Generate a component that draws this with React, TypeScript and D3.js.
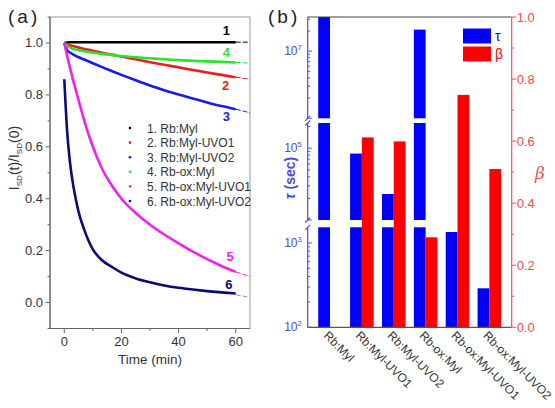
import React from "react";
import * as d3 from "d3";

// ---------- Panel (a) data ----------
const times = [0, 1, 2, 3, 4, 5, 7, 10, 13, 17, 20, 25, 30, 35, 40, 45, 50, 55, 60];
const fitTimes = [60, 62.5, 65];

const seriesNames = [
  "1. Rb:Myl",
  "2. Rb:Myl-UVO1",
  "3. Rb:Myl-UVO2",
  "4. Rb-ox:Myl",
  "5. Rb-ox:Myl-UVO1",
  "6. Rb-ox:Myl-UVO2",
];
const seriesColors = ["#000000", "#f01c1c", "#1a1ae6", "#2fe02f", "#f020f0", "#0a0a78"];
const fitColors = ["#000000", "#f01c1c", "#1a1ae6", "#2fe02f", "#f020f0", "#8a8ad8"];

const s1 = [1.0, 1.002, 1.003, 1.003, 1.003, 1.003, 1.003, 1.003, 1.003, 1.003, 1.003, 1.003, 1.003, 1.003, 1.003, 1.003, 1.003, 1.003, 1.003];
const s2 = [1.0, 0.995, 0.991, 0.988, 0.985, 0.982, 0.977, 0.97, 0.963, 0.954, 0.948, 0.937, 0.926, 0.916, 0.906, 0.896, 0.886, 0.877, 0.868];
const s3 = [1.0, 0.972, 0.963, 0.956, 0.95, 0.945, 0.936, 0.922, 0.908, 0.89, 0.877, 0.856, 0.836, 0.818, 0.801, 0.786, 0.771, 0.757, 0.745];
const s4 = [1.0, 0.988, 0.982, 0.978, 0.975, 0.972, 0.968, 0.963, 0.958, 0.953, 0.95, 0.945, 0.941, 0.937, 0.934, 0.931, 0.929, 0.927, 0.925];
const s5 = [1.0, 0.95, 0.905, 0.86, 0.82, 0.78, 0.7, 0.6, 0.52, 0.445, 0.4, 0.345, 0.3, 0.262, 0.228, 0.196, 0.167, 0.141, 0.118];
const s6 = [0.86, 0.66, 0.54, 0.46, 0.4, 0.35, 0.28, 0.205, 0.165, 0.135, 0.115, 0.093, 0.078, 0.066, 0.057, 0.05, 0.044, 0.039, 0.035];
const seriesValues = [s1, s2, s3, s4, s5, s6];

const f1 = [1.003, 1.003, 1.003];
const f2 = [0.868, 0.864, 0.86];
const f3 = [0.745, 0.738, 0.731];
const f4 = [0.925, 0.924, 0.922];
const f5 = [0.118, 0.109, 0.1];
const f6 = [0.03, 0.025, 0.02];
const fitValues = [f1, f2, f3, f4, f5, f6];

const curveLabels = ["1", "2", "3", "4", "5", "6"];
const curveLabelAt = [
  [56.7, 1.051],
  [56.5, 0.839],
  [56.7, 0.719],
  [56.7, 0.966],
  [58, 0.179],
  [57.6, 0.071],
];

const aYTicks = [0.0, 0.2, 0.4, 0.6, 0.8, 1.0];
const aXTicks = [0, 20, 40, 60];

// ---------- Panel (b) data ----------
const categories = ["Rb:Myl", "Rb:Myl-UVO1", "Rb:Myl-UVO2", "Rb-ox:Myl", "Rb-ox:Myl-UVO1", "Rb-ox:Myl-UVO2"];
const tauValues = [5e7, 8.4e4, 2.3e4, 2.1e7, 1350, 290];
const betaValues = [null, 0.612, 0.599, 0.29, 0.749, 0.51];
const betaTicks = [0, 0.2, 0.4, 0.6, 0.8, 1.0];
const tauLabelExps = [2, 3, 5, 7];

export default function App() {
  // Panel (a) scales
  const xA = d3.scaleLinear().domain([-5, 65]).range([50, 250]);
  const yA = d3.scaleLinear().domain([-0.1, 1.1]).range([328.5, 17]);
  const line = d3
    .line<[number, number]>()
    .x((d) => xA(d[0]))
    .y((d) => yA(d[1]))
    .curve(d3.curveMonotoneX);

  // Panel (b) scales
  const bL = 307.7, bR = 511.7, bT = 17, bB = 327.3;
  const xB = d3.scaleLinear().domain([0.3, 6.7]).range([bL, bR]);
  const yBeta = d3.scaleLinear().domain([0, 1]).range([bB, bT]);
  const segments = [
    d3.scaleLog().domain([1e2, Math.pow(10, 3.186)]).range([bB, 227.3]),
    d3.scaleLog().domain([1e4, Math.pow(10, 5.35)]).range([220, 123]),
    d3.scaleLog().domain([1e6, Math.pow(10, 7.51)]).range([118.3, bT]),
  ];
  const blue = "#0000ff";
  const red = "#ff0000";
  const axBlue = "#4a4ae6";
  const axRed = "#f05050";
  const barW = 11.8;

  const font = "'Liberation Sans', Arial, Helvetica, sans-serif";

  // minor ticks for log segments
  const logMinor: { seg: number; v: number; major: boolean }[] = [];
  segments.forEach((s, i) => {
    const [lo, hi] = s.domain();
    for (let e = Math.floor(Math.log10(lo)); e <= Math.ceil(Math.log10(hi)); e++) {
      for (let m = 1; m <= 9; m++) {
        const v = m * Math.pow(10, e);
        if (v >= lo * 0.999 && v <= hi) logMinor.push({ seg: i, v, major: m === 1 });
      }
    }
  });

  const findSeg = (e: number) => segments.find((s) => {
    const [lo, hi] = s.domain();
    const v = Math.pow(10, e);
    return v >= lo * 0.999 && v <= hi;
  })!;

  const breakYs = [118.3, 123, 220, 227.3];

  return (
    <svg
      width={555}
      height={408}
      style={{ position: "absolute", left: 0, top: 0, background: "#fff" }}
      fontFamily={font}
    >
      <rect x={0} y={0} width={555} height={408} fill="#fff" />
      {/* ================= Panel (a) ================= */}
      <text x={8} y={23} fontSize={19} fill="#222" letterSpacing={3}>(a)</text>

      {/* frame */}
      <rect x={50} y={17} width={200} height={311.5} fill="none" stroke="#9a9a9a" strokeWidth={1} />
      <line x1={50} y1={17} x2={50} y2={328.5} stroke="#666" strokeWidth={1.2} />
      <line x1={50} y1={328.5} x2={250} y2={328.5} stroke="#666" strokeWidth={1.2} />

      {/* y ticks */}
      {d3.range(-0.1, 1.1001, 0.1).map((v, i) => (
        <line key={"aym" + i} x1={50} x2={Math.abs(Math.round(v * 10) % 2) === 0 ? 45.5 : 47.5} y1={yA(v)} y2={yA(v)} stroke="#666" strokeWidth={1} />
      ))}
      {aYTicks.map((v) => (
        <text key={"ayl" + v} x={43} y={yA(v) + 4.5} fontSize={13} fill="#333" textAnchor="end">
          {v.toFixed(1)}
        </text>
      ))}
      {/* x ticks */}
      {d3.range(0, 61, 10).map((v) => (
        <line key={"axm" + v} x1={xA(v)} x2={xA(v)} y1={328.5} y2={v % 20 === 0 ? 333 : 331} stroke="#666" strokeWidth={1} />
      ))}
      {aXTicks.map((v) => (
        <text key={"axl" + v} x={xA(v)} y={346} fontSize={13} fill="#333" textAnchor="middle">
          {v}
        </text>
      ))}
      <text x={150} y={364} fontSize={13.5} fill="#333" textAnchor="middle">Time (min)</text>
      <text transform="translate(19,158) rotate(-90)" fontSize={14} fill="#333" textAnchor="middle">
        I<tspan fontSize={8} dy={3}>SD</tspan>
        <tspan dy={-3}>(t)/I</tspan>
        <tspan fontSize={8} dy={3}>SD</tspan>
        <tspan dy={-3}>(0)</tspan>
      </text>

      {/* curves */}
      <g>
        {seriesValues.map((vals, i) => (
          <path
            key={"fit" + i}
            d={line(fitTimes.map((t, j) => [t, fitValues[i][j]]) as [number, number][]) || ""}
            fill="none"
            stroke={fitColors[i]}
            strokeWidth={1}
            strokeDasharray="5 2"
          />
        ))}
        {seriesValues.map((vals, i) => (
          <path
            key={"s" + i}
            d={line(times.map((t, j) => [t, vals[j]]) as [number, number][]) || ""}
            fill="none"
            stroke={seriesColors[i]}
            strokeWidth={2.6}
          />
        ))}
      </g>
      {curveLabels.map((l, i) => (
        <text
          key={"cl" + i}
          x={xA(curveLabelAt[i][0])}
          y={yA(curveLabelAt[i][1]) + 5}
          fontSize={13}
          fontWeight="bold"
          fill={seriesColors[i]}
          textAnchor="middle"
        >
          {l}
        </text>
      ))}
      {/* legend */}
      {seriesNames.map((n, i) => (
        <g key={"lg" + i}>
          <circle cx={130} cy={128 + i * 14.6} r={1.3} fill={seriesColors[i]} />
          <text x={147} y={128 + i * 14.6 + 4.5} fontSize={12} fill="#333">{n}</text>
        </g>
      ))}

      {/* ================= Panel (b) ================= */}
      <text x={268} y={23} fontSize={19} fill="#222" letterSpacing={3}>(b)</text>

      {/* bars */}
      {categories.map((c, i) => {
        const cx = xB(i + 1);
        const v = tauValues[i];
        return (
          <g key={"bar" + i}>
            {segments.map((s, k) => {
              const [lo, hi] = s.domain();
              if (v <= lo) return null;
              const top = s(Math.min(v, hi));
              const bottom = s(lo);
              return <rect key={k} x={cx - barW} y={top} width={barW} height={bottom - top} fill={blue} />;
            })}
            {betaValues[i] != null && (
              <rect x={cx} y={yBeta(betaValues[i] as number)} width={barW} height={bB - yBeta(betaValues[i] as number)} fill={red} />
            )}
          </g>
        );
      })}

      {/* frame top/bottom */}
      <line x1={bL} x2={bR} y1={bT} y2={bT} stroke="#444" strokeWidth={1.2} />
      <line x1={bL} x2={bR} y1={bB} y2={bB} stroke="#555" strokeWidth={1.2} />

      {/* left broken axis */}
      {segments.map((s, k) => (
        <line key={"seg" + k} x1={bL} x2={bL} y1={s.range()[0]} y2={s.range()[1]} stroke={axBlue} strokeWidth={1.2} />
      ))}
      {logMinor.map((t, i) => (
        <line
          key={"lt" + i}
          x1={bL}
          x2={bL + (t.major ? 4.5 : 2.5)}
          y1={segments[t.seg](t.v)}
          y2={segments[t.seg](t.v)}
          stroke={axBlue}
          strokeWidth={0.9}
        />
      ))}
      {breakYs.map((y, i) => (
        <line key={"br" + i} x1={bL - 2.5} y1={y + 2.5} x2={bL + 2.5} y2={y - 2.5} stroke={axBlue} strokeWidth={1.1} />
      ))}
      {tauLabelExps.map((e) => {
        const y = findSeg(e)(Math.pow(10, e));
        return (
          <text key={"tl" + e} x={bL - 6} y={y + 4} fontSize={12} fill={axBlue} textAnchor="end">
            10<tspan fontSize={7.5} dy={-5}>{e}</tspan>
          </text>
        );
      })}
      <text transform="translate(295,178) rotate(-90)" fontSize={14} fill={axBlue} textAnchor="middle" fontWeight="bold">
        <tspan fontStyle="italic">τ</tspan> (sec)
      </text>

      {/* right axis */}
      <line x1={bR} x2={bR} y1={bT} y2={bB} stroke={axRed} strokeWidth={1.2} />
      {d3.range(0, 1.001, 0.1).map((v, i) => (
        <line key={"rt" + i} x1={bR} x2={bR + (i % 2 === 0 ? 4.5 : 2.5)} y1={yBeta(v)} y2={yBeta(v)} stroke={axRed} strokeWidth={1} />
      ))}
      {betaTicks.map((v) => (
        <text key={"rl" + v} x={bR + 5} y={yBeta(v) + 4.5} fontSize={13} fill={axRed}>
          {v.toFixed(1)}
        </text>
      ))}
      <text x={540} y={179} fontSize={17} fill={axRed} fontStyle="italic" fontFamily="'DejaVu Serif', 'Liberation Serif', serif" textAnchor="middle">β</text>

      {/* legend b */}
      <rect x={463} y={28.5} width={28} height={15} fill={blue} />
      <rect x={463} y={46.5} width={28} height={15} fill={red} />
      <text x={495} y={40.5} fontSize={14} fill={blue}>τ</text>
      <text x={495} y={58.5} fontSize={14} fill={red}>β</text>

      {/* category labels */}
      {categories.map((c, i) => (
        <text
          key={"cat" + i}
          transform={`translate(${xB(i + 1) - 7},${bB + 9}) rotate(45)`}
          fontSize={12}
          fill="#333"
        >
          {c}
        </text>
      ))}
    </svg>
  );
}
